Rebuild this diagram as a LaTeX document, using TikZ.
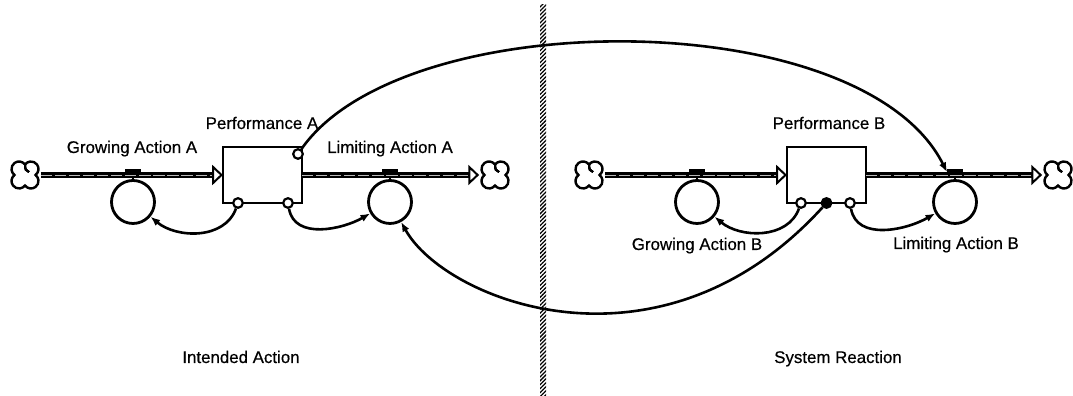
\documentclass[tikz,border=0pt]{standalone}
\usepackage{fontspec}
\setmainfont{Liberation Sans}
\newfontfamily\lblfont{Liberation Sans}[FakeBold=0.5]
\usetikzlibrary{arrows.meta,calc,patterns.meta}

\begin{document}
\begin{tikzpicture}[x=0.25mm,y=0.25mm,
  stock/.style={draw,line width=0.7mm,minimum width=19.75mm,minimum height=14mm,
    inner sep=0,outer sep=0},
  conv/.style={circle,draw,line width=0.7mm,minimum size=10.75mm,inner sep=0},
  port/.style={circle,draw,fill=white,line width=0.55mm,minimum size=2.4mm,inner sep=0},
  cloud/.style={minimum size=7.8mm,inner sep=0,path picture={
    \begin{scope}[shift={(path picture bounding box.center)},line width=0.6mm]
      \draw (10.5,0) arc[start angle=-53.1,end angle=143.1,radius=7.5]
        arc[start angle=36.9,end angle=233.1,radius=7.5]
        arc[start angle=126.9,end angle=323.1,radius=7.5]
        arc[start angle=216.9,end angle=413.1,radius=7.5] -- cycle;
      \foreach \a in {0,90,180,270}
        \draw[rotate=\a,line width=0.5mm] (0,10.5) .. controls (0,6) and (1,3.5) .. (4,3);
    \end{scope}}},
  pipe/.style={line width=1.6mm,-{Triangle[open,length=2.7mm,width=5mm,line width=0.5mm]}},
  core/.style={line width=0.2mm,gray!55,dash pattern=on 8pt off 2pt,shorten >=2.8mm},
  link/.style={line width=0.65mm,-{Latex[length=2.4mm,width=1.9mm]}},
  lbl/.style={anchor=base,font=\lblfont\fontsize{12}{14}\selectfont}
]
\useasboundingbox (0,0) rectangle (1073,396);

% Divider between the two halves.
\fill[pattern={Lines[angle=45,distance=2pt,line width=0.9pt]}] (540,0) rectangle (546,391);

% Intended action: stock A with its two flows.
\node[cloud] (srcA) at (25,221) {};
\node[stock] (stA) at (262.5,221) {};
\node[cloud] (snkA) at (495,221) {};
\node[conv] (gA) at (133,194) {};
\node[conv] (lA) at (390,194) {};
\draw[pipe] (srcA) -- (stA); \draw[core] (srcA) -- (stA);
\draw[pipe] (stA) -- (snkA); \draw[core] (stA) -- (snkA);
\fill ($(gA.north)+(-8,6.2)$) rectangle ++(16,4);
\fill ($(lA.north)+(-8,6.2)$) rectangle ++(16,4);
\draw[line width=0.5mm] (gA.north) -- ++(0,2.5);
\draw[line width=0.5mm] (lA.north) -- ++(0,2.5);
\node[port] (pA0) at ($(stA.north east)+(-4,-7)$) {};
\node[port] (pA1) at ($(stA.south west)+(15,0)$) {};
\node[port] (pA2) at ($(stA.south east)+(-14,0)$) {};
\node[lbl] (tPA) at (262,267) {Performance A};
\node[lbl] (tGA) at (132,243) {Growing Action A};
\node[lbl] (tLA) at (390,243) {Limiting Action A};
\node[lbl] (tIA) at (241,33) {Intended Action};

% System reaction: stock B with its two flows.
\node[cloud] (srcB) at (589,221) {};
\node[stock] (stB) at (826.5,221) {};
\node[cloud] (snkB) at (1058,221) {};
\node[conv] (gB) at (697,194) {};
\node[conv] (lB) at (955,194) {};
\draw[pipe] (srcB) -- (stB); \draw[core] (srcB) -- (stB);
\draw[pipe] (stB) -- (snkB); \draw[core] (stB) -- (snkB);
\fill ($(gB.north)+(-8,6.2)$) rectangle ++(16,4);
\fill ($(lB.north)+(-8,6.2)$) rectangle ++(16,4);
\draw[line width=0.5mm] (gB.north) -- ++(0,2.5);
\draw[line width=0.5mm] (lB.north) -- ++(0,2.5);
\node[port] (pB1) at ($(stB.south west)+(14,0)$) {};
\node[port,fill=black] (pB2) at (stB.south) {};
\node[port] (pB3) at ($(stB.south east)+(-16,0)$) {};
\node[lbl] (tPB) at (829,267) {Performance B};
\node[lbl] (tGB) at (697,146) {Growing Action B};
\node[lbl] (tLB) at (956,147) {Limiting Action B};
\node[lbl] (tSR) at (838,33) {System Reaction};

% Local feedback inside each half.
\draw[link] (pA1) to[out=-110,in=-40] (gA);
\draw[link] (pA2) to[out=-80,in=210] (lA);
\draw[link] (pB1) to[out=-110,in=-40] (gB);
\draw[link] (pB3) to[out=-80,in=210] (lB);

% Coupling across the divider.
\coordinate (vLB) at ($(lB.north)+(-8,7)$);
\draw[link] (pA0) .. controls (403,393) and (862,393) .. (vLB);
\draw[link] (pB2) .. controls (660,10) and (445,95) .. (lA);
\end{tikzpicture}
\end{document}
